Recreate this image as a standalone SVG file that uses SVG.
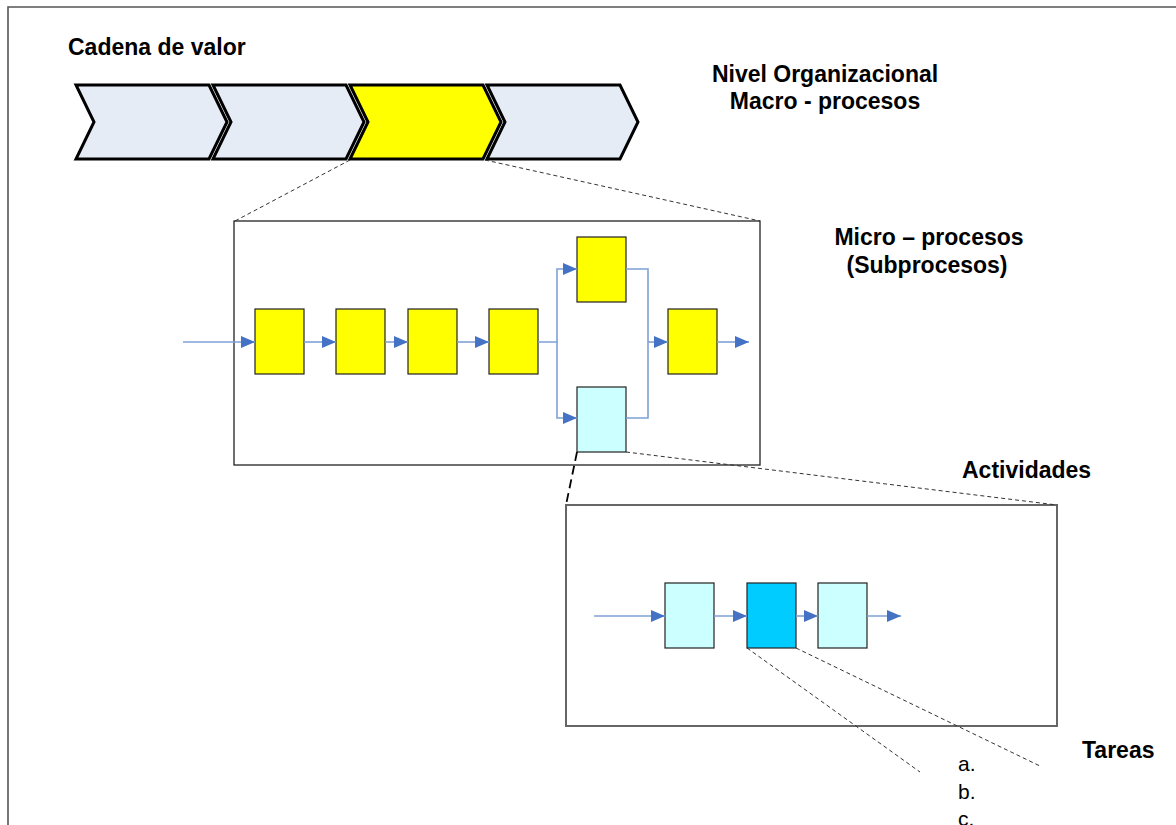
<svg xmlns="http://www.w3.org/2000/svg" width="1176" height="825" viewBox="0 0 1176 825">
  <style>
    .title { font-family: "Liberation Sans", Arial, sans-serif; font-weight: bold; font-size: 23px; fill: #000; }
    .item { font-family: "Liberation Sans", Arial, sans-serif; font-size: 21px; fill: #000; }
    .chev { stroke: #000; stroke-width: 3; stroke-linejoin: miter; }
    .chev-light { fill: #E6ECF6; }
    .chev-hot { fill: #FFFF00; }
    .frame { fill: #fff; stroke: #222; stroke-width: 1.3; }
    .frame2 { fill: #fff; stroke: #666; stroke-width: 2; }
    .step { stroke: #222; stroke-width: 1.2; }
    .yellow { fill: #FFFF00; }
    .cyan { fill: #CCFFFF; }
    .blue { fill: #00CCFF; }
    .flow { fill: none; stroke: #7EA1D6; stroke-width: 1.6; }
    .zoom { fill: none; stroke: #333; stroke-width: 1; stroke-dasharray: 4 3; }
    .zoom-heavy { fill: none; stroke: #000; stroke-width: 1.8; stroke-dasharray: 9 5; }
  </style>
  <defs>
    <marker id="arrow" viewBox="0 0 14 12" refX="14" refY="6" markerWidth="14" markerHeight="12" markerUnits="userSpaceOnUse" orient="auto">
      <path d="M0,0 L14,6 L0,12 Z" fill="#4472C4"/>
    </marker>
  </defs>

  <rect width="1176" height="825" fill="#fff"/>
  <!-- page border -->
  <path d="M8,825 L8,7 L1176,7" fill="none" stroke="#555" stroke-width="1.6"/>

  <!-- headings -->
  <g id="labels">
    <text class="title" x="68" y="55">Cadena de valor</text>
    <text class="title" x="825" y="82" text-anchor="middle">Nivel Organizacional</text>
    <text class="title" x="825" y="109" text-anchor="middle">Macro - procesos</text>
    <text class="title" x="929" y="245" text-anchor="middle">Micro – procesos</text>
    <text class="title" x="927" y="273" text-anchor="middle">(Subprocesos)</text>
    <text class="title" x="962" y="478">Actividades</text>
    <text class="title" x="1082" y="758">Tareas</text>
    <text class="item" x="958" y="771">a.</text>
    <text class="item" x="958" y="799">b.</text>
    <text class="item" x="958" y="826">c.</text>
  </g>

  <!-- value chain -->
  <g id="chain-1"><polygon class="chev chev-light" points="76,85 209,85 227,122 209,159 76,159 94,122"/></g>
  <g id="chain-2"><polygon class="chev chev-light" points="213,85 346,85 364,122 346,159 213,159 231,122"/></g>
  <g id="chain-3"><polygon class="chev chev-hot" points="350,85 483,85 501,122 483,159 350,159 368,122"/></g>
  <g id="chain-4"><polygon class="chev chev-light" points="487,85 620,85 638,122 620,159 487,159 505,122"/></g>

  <!-- sub-process panel -->
  <g id="subprocess-panel">
    <rect class="frame" x="234" y="221" width="526" height="244"/>
  </g>
  <g id="sp-1"><rect class="step yellow" x="255" y="309" width="49" height="65"/></g>
  <g id="sp-2"><rect class="step yellow" x="336" y="309" width="49" height="65"/></g>
  <g id="sp-3"><rect class="step yellow" x="408" y="309" width="49" height="65"/></g>
  <g id="sp-4"><rect class="step yellow" x="489" y="309" width="49" height="65"/></g>
  <g id="sp-5"><rect class="step yellow" x="577" y="237" width="49" height="65"/></g>
  <g id="sp-6"><rect class="step cyan" x="577" y="387" width="49" height="65"/></g>
  <g id="sp-7"><rect class="step yellow" x="668" y="309" width="49" height="65"/></g>

  <!-- activity panel -->
  <g id="activity-panel">
    <rect class="frame2" x="566" y="505" width="491" height="221"/>
  </g>
  <g id="act-1"><rect class="step cyan" x="665" y="583" width="49" height="65"/></g>
  <g id="act-2"><rect class="step blue" x="747" y="583" width="49" height="65"/></g>
  <g id="act-3"><rect class="step cyan" x="818" y="583" width="49" height="65"/></g>

  <g id="connectors">
    <!-- zoom guides -->
    <line class="zoom" x1="350" y1="160" x2="235" y2="221"/>
    <line class="zoom" x1="485" y1="160" x2="760" y2="221"/>
    <line class="zoom-heavy" x1="577" y1="452" x2="566" y2="505"/>
    <line class="zoom" x1="626" y1="452" x2="1057" y2="505"/>
    <line class="zoom" x1="747" y1="648" x2="920" y2="772"/>
    <line class="zoom" x1="796" y1="648" x2="1040" y2="766"/>

    <!-- sub-process flow -->
    <line class="flow" x1="183" y1="342" x2="255" y2="342" marker-end="url(#arrow)"/>
    <line class="flow" x1="304" y1="342" x2="336" y2="342" marker-end="url(#arrow)"/>
    <line class="flow" x1="385" y1="342" x2="408" y2="342" marker-end="url(#arrow)"/>
    <line class="flow" x1="457" y1="342" x2="489" y2="342" marker-end="url(#arrow)"/>
    <polyline class="flow" points="538,342 557,342 557,269 577,269" marker-end="url(#arrow)"/>
    <polyline class="flow" points="557,342 557,418 577,418" marker-end="url(#arrow)"/>
    <polyline class="flow" points="626,269 648,269 648,418 626,418"/>
    <line class="flow" x1="648" y1="342" x2="668" y2="342" marker-end="url(#arrow)"/>
    <line class="flow" x1="717" y1="342" x2="749" y2="342" marker-end="url(#arrow)"/>

    <!-- activity flow -->
    <line class="flow" x1="594" y1="616" x2="665" y2="616" marker-end="url(#arrow)"/>
    <line class="flow" x1="714" y1="616" x2="747" y2="616" marker-end="url(#arrow)"/>
    <line class="flow" x1="796" y1="616" x2="818" y2="616" marker-end="url(#arrow)"/>
    <line class="flow" x1="867" y1="616" x2="901" y2="616" marker-end="url(#arrow)"/>
  </g>
</svg>
